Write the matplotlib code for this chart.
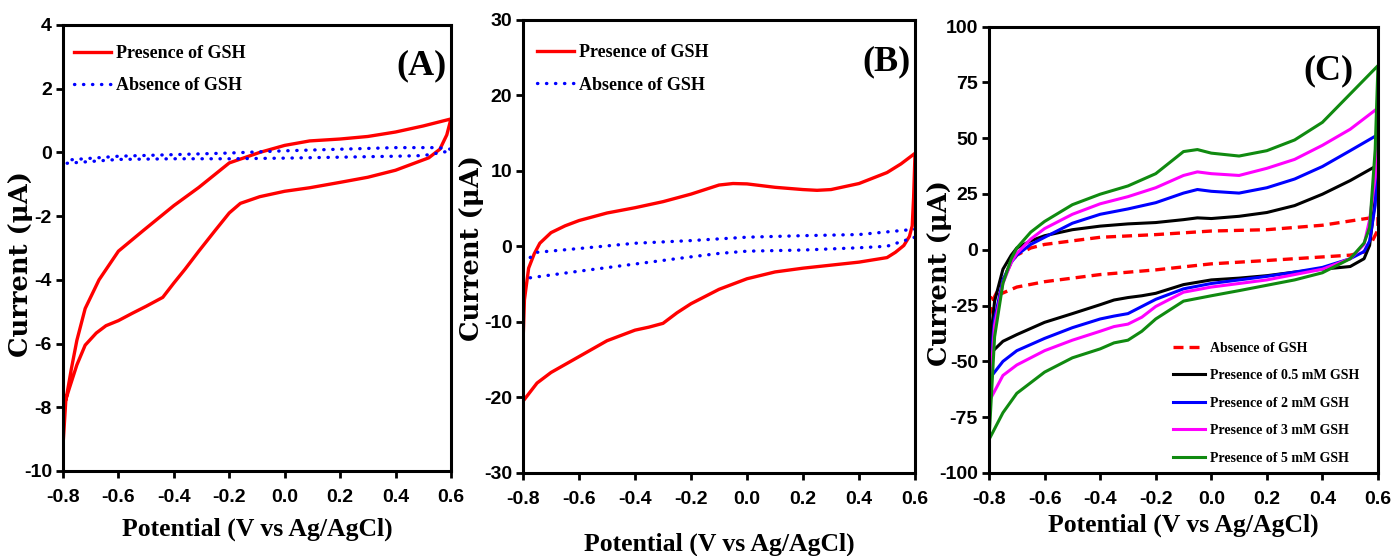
import matplotlib
matplotlib.use('Agg')
import matplotlib.pyplot as plt
from matplotlib.ticker import FormatStrFormatter

plt.rcParams['axes.unicode_minus'] = False

# ---- panel A: loop (anodic then cathodic branch), potential in V, current in uA
a_gsh_E = [-0.8, -0.79, -0.77, -0.75, -0.72, -0.67, -0.6, -0.51, -0.4, -0.31, -0.2, -0.09, 0.0, 0.09, 0.2, 0.3, 0.4, 0.5, 0.6,
           0.585, 0.56, 0.52, 0.4, 0.3, 0.2, 0.09, 0.0, -0.09, -0.16, -0.2, -0.25, -0.31, -0.36, -0.4, -0.44, -0.5, -0.55,
           -0.6, -0.645, -0.68, -0.72, -0.75, -0.777, -0.795]
a_gsh_I = [-9.2, -7.8, -6.8, -5.9, -4.9, -4.0, -3.1, -2.45, -1.67, -1.1, -0.33, 0.0, 0.22, 0.36, 0.42, 0.5, 0.64, 0.83, 1.05,
           0.55, 0.1, -0.17, -0.56, -0.78, -0.94, -1.11, -1.22, -1.39, -1.6, -1.9, -2.44, -3.1, -3.67, -4.1, -4.55, -4.83, -5.05,
           -5.28, -5.44, -5.67, -6.05, -6.67, -7.4, -7.9]
a_blank_E = [-0.8, -0.6, -0.4, -0.2, 0.0, 0.2, 0.4, 0.55, 0.6,
             0.6, 0.5, 0.4, 0.2, 0.0, -0.2, -0.4, -0.6, -0.8]
a_blank_I = [-0.25, -0.12, -0.07, -0.02, 0.05, 0.1, 0.15, 0.15, 0.1,
             0.05, -0.1, -0.12, -0.15, -0.18, -0.2, -0.2, -0.22, -0.35]

# ---- panel B
b_gsh_E = [-0.8, -0.795, -0.78, -0.76, -0.74, -0.7, -0.65, -0.6, -0.5, -0.4, -0.3, -0.2, -0.1, -0.05, 0.0, 0.1, 0.2, 0.25,
           0.3, 0.4, 0.5, 0.55, 0.6,
           0.595, 0.59, 0.58, 0.56, 0.53, 0.5, 0.4, 0.3, 0.2, 0.1, 0.0, -0.1, -0.2, -0.25, -0.3, -0.35, -0.4, -0.5, -0.6,
           -0.7, -0.75, -0.8]
b_gsh_I = [-12.75, -7.1, -2.9, -1.0, 0.4, 1.8, 2.7, 3.4, 4.4, 5.1, 5.9, 6.9, 8.1, 8.3, 8.25, 7.8, 7.5, 7.4,
           7.5, 8.3, 9.75, 10.9, 12.3,
           6.5, 2.7, 1.3, 0.1, -0.8, -1.5, -2.1, -2.5, -2.9, -3.4, -4.3, -5.7, -7.6, -8.8, -10.2, -10.7, -11.1, -12.5, -14.6,
           -16.7, -18.1, -20.5]
b_blank_E = [-0.8, -0.75, -0.6, -0.4, -0.2, 0.0, 0.2, 0.4, 0.6,
             0.6, 0.5, 0.4, 0.2, 0.0, -0.1, -0.2, -0.4, -0.6, -0.8]
b_blank_I = [-2.2, -0.8, -0.3, 0.4, 0.75, 1.2, 1.4, 1.55, 2.25,
             1.2, 0.0, -0.2, -0.5, -0.65, -0.95, -1.4, -2.35, -3.3, -4.3]

# ---- panel C
c_blank_E = [-0.8, -0.78, -0.75, -0.72, -0.7, -0.65, -0.6, -0.4, -0.2, 0.0, 0.2, 0.4, 0.6,
             0.6, 0.58, 0.55, 0.5, 0.4, 0.2, 0.0, -0.2, -0.4, -0.6, -0.7, -0.8]
c_blank_I = [-30, -21, -13.5, -5.6, -2.4, 0.8, 2.4, 5.6, 6.8, 8.4, 9.0, 11.0, 14.8,
             9.0, 4.0, -1.0, -2.4, -3.2, -4.8, -6.3, -9.0, -11.1, -14.3, -16.7, -22]

c_up_E = [-0.8, -0.78, -0.75, -0.72, -0.7, -0.65, -0.6, -0.5, -0.4, -0.3, -0.2, -0.1, -0.05, 0.0, 0.1, 0.2, 0.3, 0.4, 0.5, 0.6]
c_down_E = [0.59, 0.57, 0.55, 0.5, 0.4, 0.3, 0.2, 0.1, 0.0, -0.1, -0.2, -0.25, -0.3, -0.35, -0.4, -0.5, -0.6, -0.7, -0.75, -0.8]

c_05_up = [-47, -23, -8.7, -2.4, 0.8, 4.0, 6.3, 9.0, 10.6, 11.6, 12.2, 13.5, 14.3, 14.0, 15.0, 16.7, 19.8, 24.9, 31.0, 38.0]
c_05_down = [23, 2, -4, -7.5, -8.7, -10, -11.6, -12.7, -13.5, -15.6, -19.5, -20.6, -21.4, -22.5, -24.6, -28.6, -32.5, -38, -41, -47]
c_2_up = [-58, -31, -13.5, -5.6, -2.4, 2.4, 5.6, 11.9, 15.9, 18.3, 21.1, 25.4, 27.0, 26.2, 25.4, 27.8, 31.7, 37.3, 44.4, 51.6]
c_2_down = [20, 4, -0.8, -4, -7.9, -10, -11.9, -13.5, -15.1, -17.5, -22.2, -25.4, -28.6, -29.7, -31, -34.9, -39.7, -45.2, -50, -58]
c_3_up = [-68, -34, -15, -5.6, -1.6, 4.8, 9.5, 15.9, 20.6, 23.8, 27.8, 33.3, 34.9, 34.1, 33.3, 36.5, 40.5, 46.8, 54.0, 63.5]
c_3_down = [32.5, 13.5, 2.4, -4, -8.7, -11.1, -13.5, -15.1, -16.7, -19, -25.4, -30.2, -33.3, -34.4, -36.5, -40.5, -45.2, -51.6, -56.3, -68]
c_5_up = [-85, -39, -15, -4, 0.8, 7.9, 12.7, 20.2, 24.9, 28.6, 34.1, 44.0, 44.9, 43.3, 42.0, 44.4, 49.2, 57.1, 69.8, 82.5]
c_5_down = [45, 10, 3, -4, -10.3, -13.5, -15.9, -18.3, -20.6, -23, -31, -36.5, -40.5, -41.7, -44.4, -48.4, -54.8, -64.3, -73, -85]

c_labels = ['Absence of GSH', 'Presence of 0.5 mM GSH', 'Presence of 2 mM GSH',
            'Presence of 3 mM GSH', 'Presence of 5 mM GSH']
c_colors = ['#ff0000', '#000000', '#0000ff', '#ff00ff', '#108a10']

tick_font = ['Liberation Sans', 'DejaVu Sans']
serif = ['Liberation Serif', 'DejaVu Serif']

fig = plt.figure(figsize=(13.94, 5.56), dpi=100)
axA = fig.add_axes([0.0452, 0.1529, 0.2783, 0.8022])
axB = fig.add_axes([0.3752, 0.1493, 0.2812, 0.8156])
axC = fig.add_axes([0.7095, 0.1493, 0.2790, 0.8029])

dots = (0, (0.1, 2.6))

axA.plot(a_gsh_E, a_gsh_I, color='#ff0000', lw=2.4, label='Presence of GSH')
axA.plot(a_blank_E, a_blank_I, color='#0000ff', lw=2.4, ls=dots, dash_capstyle='round', label='Absence of GSH')
axA.set_ylim(-10, 4)
axA.set_yticks(range(-10, 5, 2))

axB.plot(b_gsh_E, b_gsh_I, color='#ff0000', lw=2.4, label='Presence of GSH')
axB.plot(b_blank_E, b_blank_I, color='#0000ff', lw=2.4, ls=dots, dash_capstyle='round', label='Absence of GSH')
axB.set_ylim(-30, 30)
axB.set_yticks(range(-30, 31, 10))

axC.plot(c_blank_E, c_blank_I, color=c_colors[0], lw=2.4, ls=(0, (3.0, 1.8)), label=c_labels[0])
for up, down, lab, col in zip([c_05_up, c_2_up, c_3_up, c_5_up], [c_05_down, c_2_down, c_3_down, c_5_down],
                              c_labels[1:], c_colors[1:]):
    axC.plot(c_up_E + c_down_E, up + down, color=col, lw=2.2, label=lab)
axC.set_ylim(-100, 100)
axC.set_yticks(range(-100, 101, 25))

for ax, tag, tx, ty, lx, ly, xly in [(axA, '(A)', 0.925, 0.908, -0.077, 0.465, -0.105),
                                    (axB, '(B)', 0.926, 0.906, -0.100, 0.496, -0.132),
                                    (axC, '(C)', 0.872, 0.900, -0.095, 0.448, -0.090)]:
    ax.set_xlim(-0.8, 0.6)
    ax.set_xticks([-0.8, -0.6, -0.4, -0.2, 0.0, 0.2, 0.4, 0.6])
    ax.xaxis.set_major_formatter(FormatStrFormatter('%.1f'))
    for s in ax.spines.values():
        s.set_linewidth(2.2)
    ax.tick_params(direction='out', length=5, width=2, top=False, right=False)
    ax.tick_params(axis='x', pad=8)
    ax.tick_params(axis='y', pad=3)
    for t in ax.get_xticklabels() + ax.get_yticklabels():
        t.set_family(tick_font)
        t.set_fontweight('bold')
        t.set_fontsize(14)
    ax.set_xlabel('Potential (V vs Ag/AgCl)', family=serif, fontweight='bold', fontsize=18.5)
    ax.xaxis.set_label_coords(0.5, xly)
    ax.set_ylabel('Current (\u03bcA)', family=['DejaVu Serif'], fontweight='bold', fontsize=18.5)
    ax.yaxis.set_label_coords(lx, ly)
    ax.text(tx, ty, tag, transform=ax.transAxes, ha='center', va='center',
            family=serif, fontweight='bold', fontsize=26)

for ax, x0, y0 in [(axA, 0.005, 0.975), (axB, 0.013, 0.965)]:
    ax.legend(loc='upper left', bbox_to_anchor=(x0, y0), frameon=False, borderpad=0,
              handlelength=2.05, handletextpad=0.25, labelspacing=0.85,
              prop={'family': serif, 'weight': 'bold', 'size': 13})

axC.legend(loc='upper left', bbox_to_anchor=(0.455, 0.31), frameon=False, borderpad=0,
           handlelength=2.3, handletextpad=0.4, labelspacing=1.05,
           prop={'family': serif, 'weight': 'bold', 'size': 10})

fig.savefig('out.png', dpi=100)
